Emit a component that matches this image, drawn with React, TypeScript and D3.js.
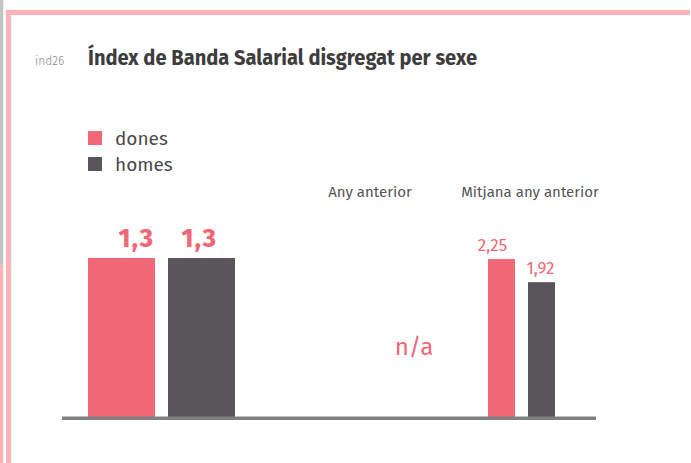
import React from "react";
import * as d3 from "d3";

const seriesNames = ["dones", "homes"];
const colors = ["#f06775", "#5a555b"];
const currentValues = [1.3, 1.3];
const currentLabels = ["1,3", "1,3"];
const prevYearLabel = "Any anterior";
const prevYearText = "n/a";
const avgLabel = "Mitjana any anterior";
const avgValues = [2.25, 1.92];
const avgLabels = ["2,25", "1,92"];

const W = 691;
const H = 463;
const baseY = 417;
const curLabelDx = [15, -2];
const avgLabelDx = [-9, -1];

export default function App() {
  const yCur = d3.scaleLinear().domain([0, d3.max(currentValues)!]).range([baseY, 258]);
  const yAvg = d3.scaleLinear().domain([0, d3.max(avgValues)!]).range([baseY, 259]);
  const xCur = d3.scaleBand<string>().domain(seriesNames).range([88, 235]).paddingInner(0.1625);
  const xAvg = d3.scaleBand<string>().domain(seriesNames).range([488, 555]).paddingInner(0.325);
  const font = "'Fira Sans', 'Open Sans', 'Noto Sans', sans-serif";

  return (
    <svg width={W} height={H} style={{ position: "absolute", left: 0, top: 0, display: "block" }}>
      <rect x={0} y={0} width={W} height={H} fill="#fff" />
      {/* frame */}
      <rect x={0} y={0} width={3.3} height={265} fill="#c4c4c4" />
      <rect x={0} y={265} width={3.3} height={H - 265} fill="#ffb3b6" />
      <rect x={6} y={10} width={5} height={H - 10} fill="#ffb3b6" />
      <rect x={6} y={10} width={684} height={5} fill="#ffb3b6" />

      <text x={35} y={65} fontFamily={font} fontSize={12} fontWeight={300} fill="#8a8a8a">ind26</text>
      <text x={88} y={65} fontFamily={font} fontSize={21} fontWeight={700} fill="#3d3d3d"
        textLength={389} lengthAdjust="spacingAndGlyphs">Índex de Banda Salarial disgregat per sexe</text>

      {seriesNames.map((n, i) => (
        <g key={n}>
          <rect x={88} y={131 + i * 26} width={14} height={14} fill={colors[i]} />
          <text x={115} y={145 + i * 26} fontFamily={font} fontSize={19} fontWeight={400} fill="#4a4a4a">{n}</text>
        </g>
      ))}

      {seriesNames.map((n, i) => (
        <g key={"c" + n}>
          <rect x={xCur(n)} y={yCur(currentValues[i])} width={xCur.bandwidth()}
            height={baseY - yCur(currentValues[i])} fill={colors[i]} />
          <text x={xCur(n)! + xCur.bandwidth() / 2 + curLabelDx[i]} y={yCur(currentValues[i]) - 11} textAnchor="middle"
            fontFamily={font} fontSize={25} fontWeight={800} letterSpacing={1.5} fill="#f06775">{currentLabels[i]}</text>
        </g>
      ))}

      <text x={370} y={197} textAnchor="middle" fontFamily={font} fontSize={15} fontWeight={400} fill="#555">{prevYearLabel}</text>
      <text x={414} y={355} textAnchor="middle" fontFamily={font} fontSize={24} fontWeight={400} fill="#f06775">{prevYearText}</text>

      <text x={530} y={197} textAnchor="middle" fontFamily={font} fontSize={15} fontWeight={400} fill="#555">{avgLabel}</text>
      {seriesNames.map((n, i) => (
        <g key={"a" + n}>
          <rect x={xAvg(n)} y={yAvg(avgValues[i])} width={xAvg.bandwidth()}
            height={baseY - yAvg(avgValues[i])} fill={colors[i]} />
          <text x={xAvg(n)! + xAvg.bandwidth() / 2 + avgLabelDx[i]} y={yAvg(avgValues[i]) - 8} textAnchor="middle"
            fontFamily={font} fontSize={17} fontWeight={400} fill="#f06775">{avgLabels[i]}</text>
        </g>
      ))}

      <rect x={62} y={416.5} width={534} height={3.5} fill="#808080" />
    </svg>
  );
}
